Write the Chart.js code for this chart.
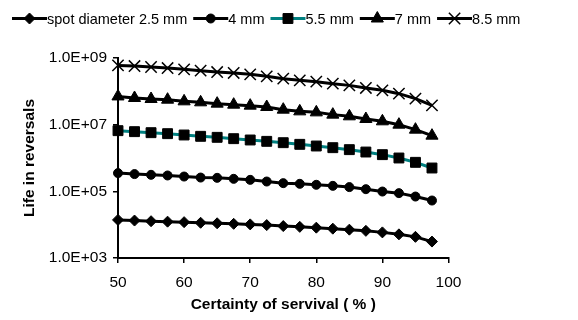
<!DOCTYPE html>
<html>
<head>
<meta charset="utf-8">
<script src="https://cdn.jsdelivr.net/npm/chart.js@4.4.1/dist/chart.umd.min.js"></script>
<style>
html,body{margin:0;padding:0;background:#fff;}
#c{display:block;}
</style>
</head>
<body>
<canvas id="c" width="578" height="320"></canvas>
<script>
// ---- data ----
const certainty = [50, 52.5, 55, 57.5, 60, 62.5, 65, 67.5, 70, 72.5, 75, 77.5, 80, 82.5, 85, 87.5, 90, 92.5, 95, 97.5];
const spot25 = [13900, 13300, 12700, 12300, 11900, 11400, 11000, 10600, 10200, 9700, 9080, 8590, 8130, 7590, 7080, 6520, 5870, 5120, 4310, 3110];
const spot40 = [352000, 329000, 313000, 299000, 278000, 259000, 254000, 237000, 221000, 197000, 176000, 168000, 157000, 146000, 134000, 116000, 98600, 88300, 69800, 53000];
const spot55 = [6610000, 6170000, 5750000, 5370000, 4900000, 4470000, 4170000, 3800000, 3470000, 3160000, 2880000, 2570000, 2290000, 2040000, 1780000, 1510000, 1260000, 1000000, 741000, 501000];
const spot70 = [70300000, 63100000, 58900000, 56200000, 50100000, 46800000, 42700000, 39800000, 37200000, 33900000, 28200000, 25100000, 23400000, 20000000, 17800000, 14800000, 12600000, 10000000, 7080000, 4680000];
const spot85 = [600000000, 575000000, 537000000, 501000000, 457000000, 417000000, 380000000, 355000000, 324000000, 282000000, 240000000, 214000000, 195000000, 170000000, 151000000, 126000000, 107000000, 85100000, 60300000, 38000000];
const seriesLabels = ['spot diameter 2.5 mm', '4 mm', '5.5 mm', '7 mm', '8.5 mm'];
const yTickValues = [1e3, 1e5, 1e7, 1e9];
const yTickLabels = ['1.0E+03', '1.0E+05', '1.0E+07', '1.0E+09'];
const xTitle = 'Certainty of servival ( % )';
const yTitle = 'Life in reversals';

const FONT = '"Liberation Sans", Arial, sans-serif';

function pts(arr){ return certainty.map((x,i)=>({x:x, y:arr[i]})); }

const styles = [
  {pointStyle:'rectRot', pointRadius:5.5, color:'#000000', pbw:1},
  {pointStyle:'circle', pointRadius:4.5, color:'#000000', pbw:1},
  {pointStyle:'rect', pointRadius:7, color:'#008080', pbw:1},
  {pointStyle:'triangle', pointRadius:7, color:'#000000', pbw:1},
  {pointStyle:'crossRot', pointRadius:8, color:'#000000', pbw:1.5}
];
const allSeries = [spot25, spot40, spot55, spot70, spot85];

const datasets = allSeries.map((s,i)=>({
  label: seriesLabels[i],
  data: pts(s),
  borderColor: styles[i].color,
  borderWidth: 3,
  pointStyle: styles[i].pointStyle,
  pointRadius: styles[i].pointRadius,
  pointHoverRadius: styles[i].pointRadius,
  pointBackgroundColor: '#000',
  pointBorderColor: '#000',
  pointBorderWidth: styles[i].pbw,
  tension: 0,
  fill: false,
  clip: false
}));

const legendPlugin = {
  id: 'lineLegend',
  afterDraw(chart){
    const ctx = chart.ctx;
    ctx.save();
    ctx.font = '14.5px ' + FONT;
    ctx.textBaseline = 'middle';
    ctx.textAlign = 'left';
    let x = 12;
    const y = 18.5;
    chart.data.datasets.forEach((ds)=>{
      ctx.strokeStyle = ds.borderColor;
      ctx.lineWidth = ds.borderWidth;
      ctx.beginPath();
      ctx.moveTo(x, y);
      ctx.lineTo(x + 35, y);
      ctx.stroke();
      ctx.fillStyle = '#000';
      ctx.strokeStyle = '#000';
      ctx.lineWidth = ds.pointBorderWidth;
      Chart.helpers.drawPoint(ctx, {pointStyle: ds.pointStyle, radius: ds.pointRadius, borderWidth: ds.pointBorderWidth, rotation: 0}, x + 17.5, y);
      ctx.fillStyle = '#000';
      ctx.fillText(ds.label, x + 35, y + 1);
      x += 35 + ctx.measureText(ds.label).width + 6;
    });
    ctx.restore();
  }
};

new Chart(document.getElementById('c'), {
  type: 'line',
  data: { datasets: datasets },
  options: {
    responsive: false,
    animation: false,
    devicePixelRatio: 1,
    layout: { padding: { left: 20, right: 129.5, top: 58, bottom: 0 } },
    plugins: { legend: { display: false }, tooltip: { enabled: false } },
    scales: {
      x: {
        type: 'linear',
        min: 50, max: 100,
        ticks: { stepSize: 10, color: '#000', font: { family: FONT, size: 15.5 }, padding: 10, maxRotation: 0 },
        grid: { display: true, drawOnChartArea: false, drawTicks: true, tickLength: 5, color: '#000', lineWidth: 1.5 },
        border: { display: true, color: '#000', width: 2 },
        title: { display: true, text: xTitle, color: '#000', font: { family: FONT, size: 15.5, weight: 'bold' }, padding: { top: 0, bottom: 6 } },
        afterFit(scale){ scale.height = 62; }
      },
      y: {
        type: 'logarithmic',
        min: 1e3, max: 1e9,
        afterBuildTicks(scale){ scale.ticks = yTickValues.map(v=>({value:v})); },
        ticks: {
          color: '#000', font: { family: FONT, size: 15.5 }, padding: 6,
          callback(v){ const i = yTickValues.indexOf(v); return i >= 0 ? yTickLabels[i] : ''; }
        },
        grid: { display: true, drawOnChartArea: false, drawTicks: true, tickLength: 5, color: '#000', lineWidth: 1.5 },
        border: { display: true, color: '#000', width: 2 },
        title: { display: true, text: yTitle, color: '#000', font: { family: FONT, size: 15.5, weight: 'bold' }, padding: { top: 0, bottom: 0 } },
        afterFit(scale){ scale.width = 98; }
      }
    }
  },
  plugins: [legendPlugin]
});
</script>
</body>
</html>
